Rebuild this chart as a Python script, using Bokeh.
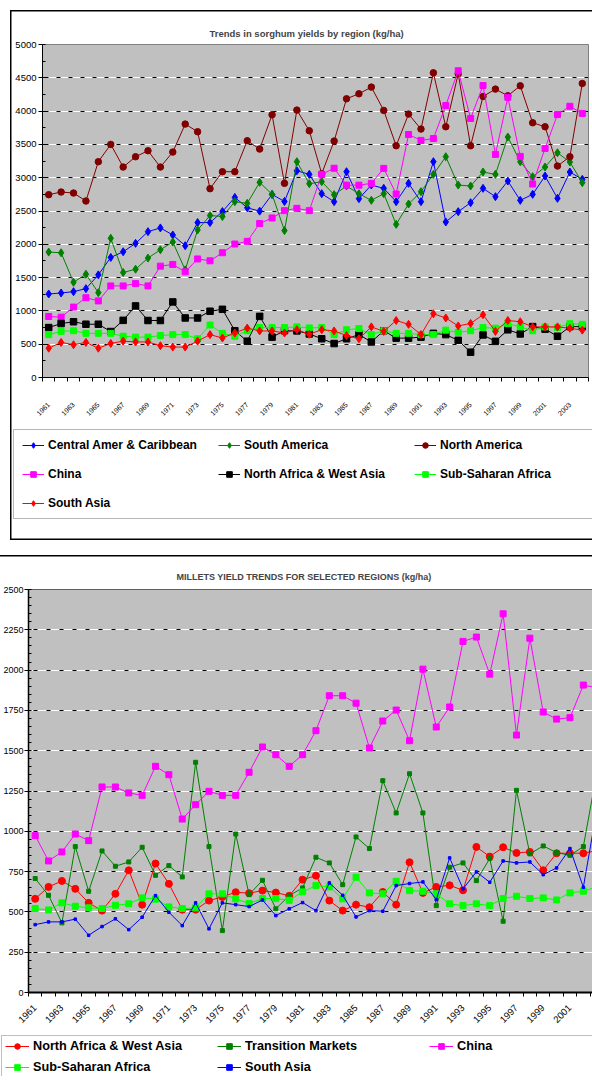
import math
from bokeh.plotting import figure
from bokeh.models import (Range1d, FixedTicker, SingleIntervalTicker, Grid,
                          Legend, LegendItem)
from bokeh.layouts import column
from bokeh.embed import file_html
from bokeh.resources import INLINE

FONT = "Liberation Sans"

# ---------------- Sorghum data (kg/ha) ----------------
sorghum_years = list(range(1961, 2005))
sorghum_labels = list(range(1961, 2004, 2))

sorghum_central_amer_caribbean = [
    1254, 1269, 1289, 1334, 1541, 1803, 1888, 2014, 2190, 2246,
    2140, 1979, 2326, 2326, 2492, 2704, 2548, 2498, 2749, 2643,
    3104, 3050, 2760, 2640, 3090, 2685, 2890, 2840, 2640, 2915,
    2640, 3240, 2335, 2490, 2625, 2840, 2715, 2950, 2660, 2750,
    3025, 2690, 3085, 2975]
sorghum_south_america = [
    1883, 1873, 1430, 1551, 1274, 2090, 1576, 1626, 1793, 1918,
    2034, 1616, 2216, 2432, 2417, 2640, 2615, 2930, 2750, 2206,
    3240, 2910, 2940, 2745, 2875, 2760, 2660, 2760, 2300, 2605,
    2790, 3050, 3315, 2890, 2875, 3085, 3050, 3610, 3240, 3015,
    3160, 3375, 3235, 2925]
sorghum_north_america = [
    2745, 2785, 2770, 2650, 3240, 3500, 3160, 3315, 3405, 3160,
    3385, 3805, 3690, 2835, 3090, 3090, 3555, 3430, 3945, 2915,
    4015, 3705, 3060, 3550, 4185, 4260, 4360, 4010, 3480, 3955,
    3730, 4575, 3765, 4560, 3480, 4220, 4330, 4230, 4380, 3825,
    3765, 3175, 3315, 4415]
sorghum_china = [
    916, 906, 1057, 1198, 1150, 1375, 1375, 1410, 1375, 1672,
    1697, 1586, 1780, 1752, 1873, 2004, 2044, 2313, 2395, 2505,
    2540, 2505, 3050, 3142, 2888, 2888, 2915, 3140, 2755, 3648,
    3560, 3588, 4085, 4605, 3890, 4384, 3350, 4207, 3320, 2905,
    3440, 3948, 4072, 3965]
sorghum_north_africa_west_asia = [
    750, 810, 837, 800, 800, 690, 858, 1075, 856, 856,
    1135, 894, 894, 995, 1024, 702, 545, 918, 606, 702,
    700, 654, 582, 510, 582, 644, 534, 702, 591, 591,
    606, 663, 644, 558, 380, 639, 543, 716, 654, 764,
    726, 620, 764, 764]
sorghum_sub_saharan_africa = [
    644, 692, 702, 663, 663, 663, 620, 606, 606, 630,
    644, 644, 582, 788, 663, 620, 702, 750, 750, 750,
    760, 745, 750, 644, 716, 735, 644, 702, 663, 663,
    644, 644, 711, 678, 702, 750, 740, 808, 760, 702,
    760, 750, 808, 798]
sorghum_south_asia = [
    440, 527, 492, 527, 440, 511, 546, 534, 534, 477,
    457, 457, 546, 644, 593, 669, 742, 699, 699, 669,
    718, 649, 718, 699, 630, 582, 760, 692, 856, 798,
    644, 957, 894, 774, 812, 942, 692, 856, 837, 760,
    760, 760, 740, 711]

# ---------------- Millet data (kg/ha) ----------------
millet_years = list(range(1961, 2004))
millet_labels = list(range(1961, 2004, 2))

millet_north_africa_west_asia = [
    581, 655, 692, 643, 556, 508, 612, 758, 545, 800,
    674, 514, 514, 570, 593, 622, 616, 632, 620, 600,
    700, 725, 570, 508, 545, 529, 624, 545, 808, 618,
    655, 665, 634, 903, 843, 901, 866, 872, 758, 864,
    864, 864, 880]
millet_transition_markets = [
    707, 603, 432, 905, 628, 878, 783, 810, 901, 727,
    787, 717, 1428, 905, 384, 983, 607, 696, 519, 601,
    649, 839, 804, 669, 965, 893, 1314, 1114, 1357, 1114,
    539, 777, 804, 694, 831, 442, 1254, 860, 909, 868,
    851, 905, 1360]
millet_china = [
    973, 816, 872, 983, 942, 1275, 1275, 1238, 1223, 1403,
    1351, 1076, 1165, 1248, 1223, 1223, 1366, 1523, 1475, 1403,
    1475, 1624, 1841, 1841, 1795, 1517, 1684, 1752, 1562, 2006,
    1647, 1771, 2178, 2205, 1975, 2349, 1597, 2198, 1740, 1696,
    1705, 1907, 1890]
millet_sub_saharan_africa = [
    521, 512, 556, 535, 525, 521, 541, 550, 587, 579,
    531, 521, 525, 612, 612, 581, 552, 583, 583, 572,
    624, 663, 655, 581, 715, 618, 612, 690, 632, 628,
    612, 550, 539, 550, 539, 583, 597, 583, 587, 574,
    618, 628, 655]
millet_south_asia = [
    421, 438, 438, 455, 355, 409, 457, 390, 467, 601,
    498, 415, 556, 395, 556, 545, 533, 574, 477, 519,
    558, 508, 680, 603, 469, 508, 504, 663, 676, 686,
    576, 835, 643, 748, 684, 816, 804, 810, 731, 773,
    893, 653, 1130]


def no_align(p):
    try:
        p.frame_align = False
    except Exception:
        pass


def setup_axes(p, labels, years, xfont, xstandoff, yinterval, yminor, yfont,
               ystandoff, xline_w, yline_w):
    xa = p.xaxis[0]
    xa.ticker = FixedTicker(ticks=labels,
                            minor_ticks=[y - 0.5 for y in years] + [years[-1] + 0.5])
    xa.major_tick_line_color = None
    xa.major_tick_out = 4
    xa.major_tick_in = 0
    xa.minor_tick_line_color = "black"
    xa.minor_tick_out = 4
    xa.minor_tick_in = 0
    xa.major_label_orientation = math.pi / 4
    xa.major_label_text_font = FONT
    xa.major_label_text_font_size = xfont
    xa.major_label_text_color = "black"
    xa.major_label_standoff = xstandoff
    xa.axis_line_color = "black"
    xa.axis_line_width = xline_w
    ya = p.yaxis[0]
    ya.ticker = SingleIntervalTicker(interval=yinterval, num_minor_ticks=yminor)
    ya.major_tick_line_color = "black"
    ya.major_tick_out = 4
    ya.major_tick_in = 0
    ya.minor_tick_line_color = "black"
    ya.minor_tick_out = 0
    ya.minor_tick_in = 3
    ya.major_label_text_font = FONT
    ya.major_label_text_font_size = yfont
    ya.major_label_text_color = "black"
    ya.major_label_standoff = ystandoff
    ya.axis_line_color = "black"
    ya.axis_line_width = yline_w
    p.xgrid.visible = False
    p.ygrid.grid_line_color = "white"
    p.ygrid.grid_line_width = 1
    return ya.ticker


def add_series(p, x, y, color, marker, size):
    ln = p.line(x, y, line_color=color, line_width=1)
    sc = p.scatter(x, y, marker=marker, size=size, fill_color=color, line_color=color)
    return [ln, sc]


def legend_figure(width, height, series, x, legend_kw, margin, shadow):
    # a figure whose whole canvas is its frame; its series lie outside the
    # view, so only the legend built from them is seen
    lf = figure(frame_width=width, frame_height=height,
                x_range=Range1d(0, 1), y_range=Range1d(0, 1),
                min_border=0, min_border_left=0, min_border_right=0,
                min_border_top=0, min_border_bottom=0,
                x_axis_location=None, y_axis_location=None,
                output_backend="svg", toolbar_location=None,
                background_fill_color="white", border_fill_color="white",
                border_fill_alpha=0, background_fill_alpha=0,
                outline_line_color=None)
    no_align(lf)
    lf.xgrid.visible = False
    lf.ygrid.visible = False
    lf.margin = margin
    lf.styles = {"background-color": "white", "box-shadow": shadow}
    items = []
    for name, vals, col, mk, sz in series:
        items.append(LegendItem(label=name, renderers=add_series(lf, x, vals, col, mk, sz)))
    lf.add_layout(Legend(items=items, **legend_kw))
    return lf


# ================= Top chart: sorghum =================
p1 = figure(frame_width=546, frame_height=333,
            min_border_left=32, min_border_right=4, min_border_top=34, min_border_bottom=51,
            x_range=Range1d(1960.5, 2004.5), y_range=Range1d(0, 5000),
            output_backend="svg", toolbar_location=None,
            background_fill_color="#C0C0C0", border_fill_color="white",
            border_fill_alpha=0,
            outline_line_color="#808080", outline_line_width=1)
no_align(p1)
p1.margin = (10, 0, 0, 10)
p1.styles = {"background-color": "white", "box-shadow": "inset 1.5px 1.5px 0 0 #000000"}
p1.title.text = "Trends in sorghum yields by region (kg/ha)"
p1.title.text_font = FONT
p1.title.text_font_size = "9.5px"
p1.title.text_font_style = "bold"
p1.title.align = "left"
p1.title.offset = 167
p1.title.standoff = 11

t1 = setup_axes(p1, sorghum_labels, sorghum_years, "7px", 22, 500, 2, "9.5px", 2, 1, 1)
p1.add_layout(Grid(dimension=1, ticker=t1, grid_line_color="black",
                   grid_line_dash="4 8", grid_line_dash_offset=10))

s1 = [
    ("Central Amer & Caribbean", sorghum_central_amer_caribbean, "#0000FF", "diamond", 8),
    ("South America", sorghum_south_america, "#008000", "diamond", 8),
    ("North America", sorghum_north_america, "#800000", "circle", 6.5),
    ("China", sorghum_china, "#FF00FF", "square", 6),
    ("North Africa & West Asia", sorghum_north_africa_west_asia, "#000000", "square", 6.5),
    ("Sub-Saharan Africa", sorghum_sub_saharan_africa, "#00FF00", "square", 6),
    ("South Asia", sorghum_south_asia, "#FF0000", "diamond", 8),
]
for name, vals, col, mk, sz in s1:
    add_series(p1, sorghum_years, vals, col, mk, sz)

L1 = legend_figure(
    582, 112, s1, sorghum_years,
    dict(location=(3, 21), orientation="horizontal", ncols=3,
         padding=8, margin=0, spacing=15, glyph_width=22, glyph_height=14,
         label_height=14, label_width=155, label_standoff=4,
         label_text_font=FONT, label_text_font_size="12px",
         label_text_font_style="bold", label_text_color="black",
         border_line_color="#707070", border_line_width=1.5,
         background_fill_color="white", background_fill_alpha=1),
    (0, 0, 0, 10), "inset 1.5px 0 0 0 #000000, inset 0 -1.5px 0 0 #000000")

# ================= Bottom chart: millet =================
p2 = figure(frame_width=565, frame_height=403,
            min_border_left=27, min_border_right=0, min_border_top=34, min_border_bottom=42,
            x_range=Range1d(1960.5, 2002.76), y_range=Range1d(0, 2500),
            output_backend="svg", toolbar_location=None,
            background_fill_color="#C0C0C0", border_fill_color="white",
            border_fill_alpha=0,
            outline_line_color="#606060", outline_line_width=1)
no_align(p2)
p2.margin = (15, 0, 0, 0)
p2.styles = {"background-color": "white", "box-shadow": "inset 0 1.5px 0 0 #000000"}
p2.title.text = "MILLETS YIELD TRENDS FOR SELECTED REGIONS (kg/ha)"
p2.title.text_font = FONT
p2.title.text_font_size = "9px"
p2.title.text_font_style = "bold"
p2.title.align = "left"
p2.title.offset = 148
p2.title.standoff = 15

t2 = setup_axes(p2, millet_labels, millet_years, "9.5px", 10, 250, 5, "9px", 1, 2, 1.5)
p2.add_layout(Grid(dimension=1, ticker=t2, grid_line_color="black",
                   grid_line_dash="4 9", grid_line_dash_offset=8))

s2 = [
    ("North Africa & West Asia", millet_north_africa_west_asia, "#FF0000", "circle", 7),
    ("Transition Markets", millet_transition_markets, "#008000", "square", 4),
    ("China", millet_china, "#FF00FF", "square", 6),
    ("Sub-Saharan Africa", millet_sub_saharan_africa, "#00FF00", "square", 6),
    ("South Asia", millet_south_asia, "#0000FF", "square", 2.5),
]
for name, vals, col, mk, sz in s2:
    add_series(p2, millet_years, vals, col, mk, sz)

L2 = legend_figure(
    592, 42, s2, millet_years,
    dict(location=(1, -2), orientation="horizontal", ncols=3,
         padding=3, margin=0, spacing=7, glyph_width=24, glyph_height=14,
         label_height=14, label_width=177, label_standoff=4,
         label_text_font=FONT, label_text_font_size="12.7px",
         label_text_font_style="bold", label_text_color="black",
         border_line_color="#808080", border_line_width=1.5,
         background_fill_color="white", background_fill_alpha=1),
    (0, 0, 0, 0), "none")

layout = column(p1, L1, p2, L2)
open("out.html", "w").write(file_html(layout, INLINE))
